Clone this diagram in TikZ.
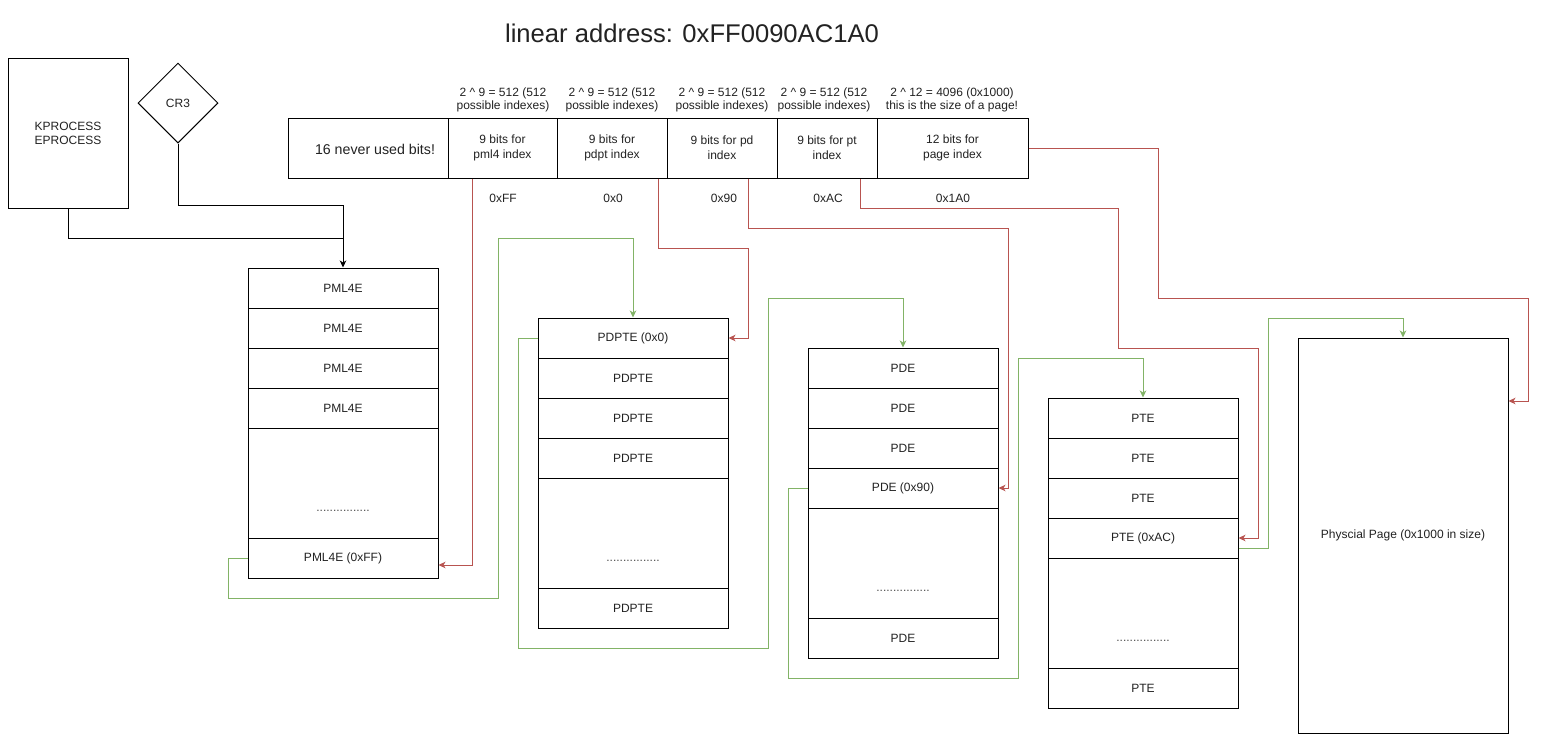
\documentclass[tikz,border=0pt]{standalone}
\usepackage{fontspec}
\setmainfont{Liberation Sans}
\usetikzlibrary{arrows.meta,shapes.geometric}
\definecolor{redl}{HTML}{B85450}
\definecolor{greenl}{HTML}{82B366}
\definecolor{txt}{HTML}{222222}
\tikzset{
  fs/.style={font=\fontsize{12}{13.5}\selectfont},
  cell/.style={draw=black, line width=1pt, minimum width=190pt, minimum height=40pt, inner sep=0pt, fs, text=txt},
  gap/.style={draw=black, line width=1pt, minimum width=190pt, minimum height=110pt, inner sep=0pt},
  addr/.style={draw=black, line width=1pt, minimum height=60pt, inner sep=0pt, align=center, font=\fontsize{12}{15}\selectfont, text=txt},
  lbl/.style={align=center, fs, text=txt, inner sep=0pt},
  dots/.style={fs, text=black!70, inner sep=0pt, anchor=base},
  tip/.style={-{Stealth[length=7pt,width=6.5pt,inset=2pt]}},
  redc/.style={draw=redl, line width=1pt, tip},
  greenc/.style={draw=greenl, line width=1pt, tip},
  blackc/.style={draw=black, line width=1pt},
}
\begin{document}
\begin{tikzpicture}[x=1pt,y=-1pt]
\fill[white] (0,0) rectangle (1545,742);
\useasboundingbox (0,0) rectangle (1545,742);

% title
\node[txt, font=\fontsize{25.6}{28}\selectfont, inner sep=0pt] (title) at (692,33) {linear address: 0xFF0090AC1A0};

% KPROCESS and CR3
\node[draw=black, line width=1pt, minimum width=120pt, minimum height=150pt, inner sep=0pt] (kp) at (68,133) {};
\node[lbl, font=\fontsize{12}{14}\selectfont] (kpt) at (68,133) {KPROCESS\\EPROCESS};
\node[draw=black, line width=1pt, diamond, aspect=1, minimum width=80pt, minimum height=80pt, inner sep=0pt] (cr3) at (178,103) {};
\node[lbl] (cr3t) at (178,103) {CR3};

% address bar
\node[addr, minimum width=160pt] (c0) at (368,148) {};
\node[txt, font=\fontsize{14.2}{16}\selectfont, inner sep=0pt] (c0t) at (375,149) {16 never used bits!};
\node[addr, minimum width=109pt] (c1) at (502.5,148) {9 bits for\\pml4 index};
\node[addr, minimum width=110pt] (c2) at (612,148) {9 bits for\\pdpt index};
\node[addr, minimum width=110pt] (c3) at (722,148) {9 bits for pd\\index};
\node[addr, minimum width=100pt] (c4) at (827,148) {9 bits for pt\\index};
\node[addr, minimum width=151pt] (c5) at (952.5,148) {12 bits for\\page index};

\node[lbl] (h1) at (503,100) {2 \^{} 9 = 512 (512\\possible indexes)};
\node[lbl] (h2) at (612,100) {2 \^{} 9 = 512 (512\\possible indexes)};
\node[lbl] (h3) at (722,100) {2 \^{} 9 = 512 (512\\possible indexes)};
\node[lbl] (h4) at (824,100) {2 \^{} 9 = 512 (512\\possible indexes)};
\node[lbl] (h5) at (952,100) {2 \^{} 12 = 4096 (0x1000)\\this is the size of a page!};

\node[lbl] (v1) at (503,198) {0xFF};
\node[lbl] (v2) at (613,198) {0x0};
\node[lbl] (v3) at (724,198) {0x90};
\node[lbl] (v4) at (828,198) {0xAC};
\node[lbl] (v5) at (953,198) {0x1A0};

% PML4 table
\node[cell] (a0) at (343,288) {PML4E};
\node[cell] (a1) at (343,328) {PML4E};
\node[cell] (a2) at (343,368) {PML4E};
\node[cell] (a3) at (343,408) {PML4E};
\node[gap]  (ag) at (343,483) {};
\node[dots] (ad) at (343,511) {................};
\node[cell] (aff) at (343,558) {PML4E (0xFF)};

% PDPT table
\node[cell] (b0) at (633,338) {PDPTE (0x0)};
\node[cell] (b1) at (633,378) {PDPTE};
\node[cell] (b2) at (633,418) {PDPTE};
\node[cell] (b3) at (633,458) {PDPTE};
\node[gap]  (bg) at (633,533) {};
\node[dots] (bd) at (633,561) {................};
\node[cell] (b9) at (633,608) {PDPTE};

% PD table
\node[cell] (d0) at (903,368) {PDE};
\node[cell] (d1) at (903,408) {PDE};
\node[cell] (d2) at (903,448) {PDE};
\node[cell] (d90) at (903,488) {PDE (0x90)};
\node[gap]  (dg) at (903,563) {};
\node[dots] (dd) at (903,591) {................};
\node[cell] (d9) at (903,638) {PDE};

% PT table
\node[cell] (t0) at (1143,418) {PTE};
\node[cell] (t1) at (1143,458) {PTE};
\node[cell] (t2) at (1143,498) {PTE};
\node[cell] (tac) at (1143,538) {PTE (0xAC)};
\node[gap]  (tg) at (1143,613) {};
\node[dots] (td) at (1143,641) {................};
\node[cell] (t9) at (1143,688) {PTE};

% physical page
\node[draw=black, line width=1pt, minimum width=210pt, minimum height=395pt, inner sep=0pt, fs, text=txt] (pg) at (1403,535.5) {Physcial Page (0x1000 in size)};

% black connectors
\draw[blackc] (kp.south) |- (343,238);
\draw[blackc, tip] (cr3.south) |- (343,205) -- (a0.north);

% red connectors
\draw[redc] ([xshift=-30.5pt]c1.south) |- ([yshift=-7pt]aff.east);
\draw[redc] ([xshift=46pt]c2.south) |- (748,248) |- (b0.east);
\draw[redc] ([xshift=26pt]c3.south) |- (1008,228) |- (d90.east);
\draw[redc] ([xshift=33pt]c4.south) |- (1118,208) |- (1258,348) |- (tac.east);
\draw[redc] (c5.east) -| (1158,298) -| (1528,401) -- ([yshift=134.5pt]pg.east);

% green connectors
\draw[greenc] (aff.west) -| (228,598) -| (498,238) -| (b0.north);
\draw[greenc] (b0.west) -| (518,648) -| (768,298) -| (d0.north);
\draw[greenc] (d90.west) -| (788,678) -| (1018,358) -| (t0.north);
\draw[greenc] ([yshift=-10pt]tac.east) -| (1268,318) -| (pg.north);
\end{tikzpicture}
\end{document}
